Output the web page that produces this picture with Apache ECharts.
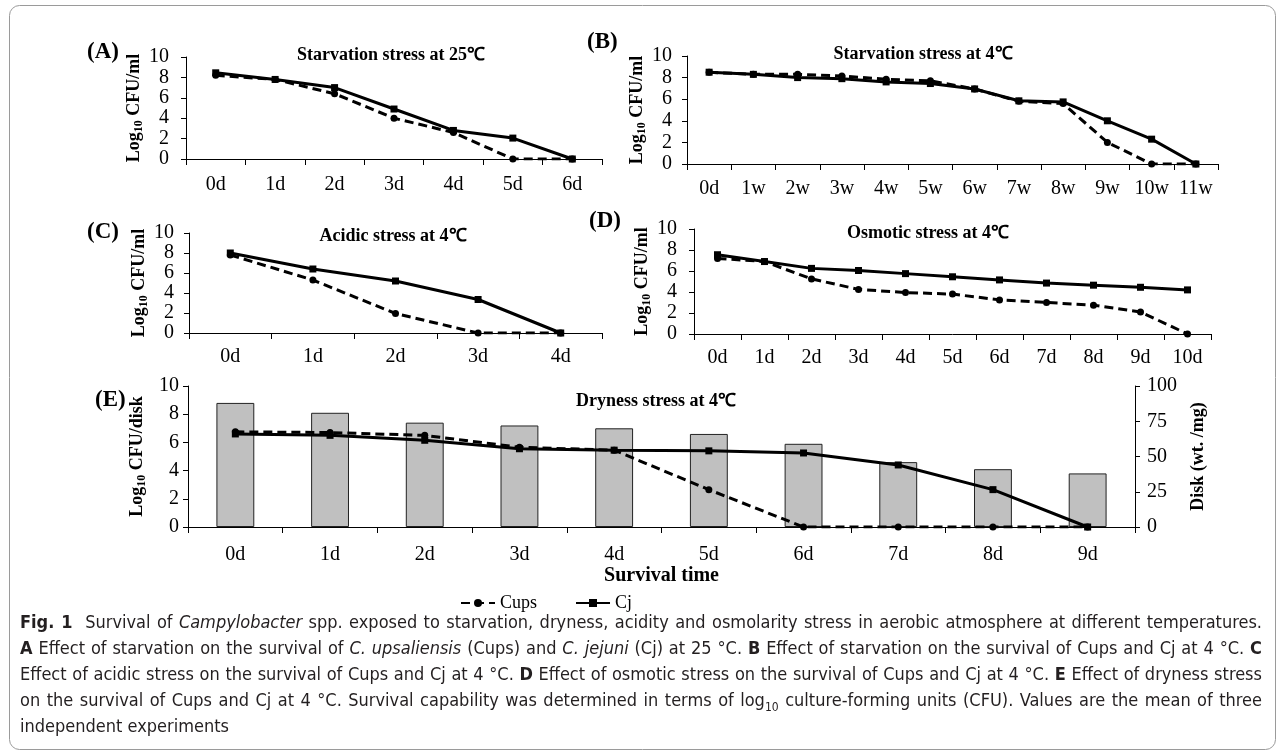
<!DOCTYPE html>
<html>
<head>
<meta charset="utf-8">
<script src="https://cdn.jsdelivr.net/npm/echarts@6/dist/echarts.min.js"></script>
<style>
    body { margin: 0; background: #fff; }
    #divChart { position: absolute; left: 0; top: 0; width: 1284px; height: 755px; }
    #caption {
        position: absolute; left: 20px; top: 609px; width: 1242px;
        font-family: "Liberation Sans Narrow", "DejaVu Sans Condensed", "DejaVu Sans", sans-serif;
        font-stretch: condensed;
        font-size: 18px; color: #231f20; line-height: 26px;
    }
    #caption div { white-space: nowrap; text-align: justify; text-align-last: justify; }
    #caption div.last { text-align-last: left; }
    #caption sub { font-size: 12px; line-height: 0; }
</style>
</head>
<body>
<div id="divChart"></div>
<div id="caption">
    <div><b>Fig. 1</b>&nbsp; Survival of <i>Campylobacter</i> spp. exposed to starvation, dryness, acidity and osmolarity stress in aerobic atmosphere at different temperatures.</div>
    <div><b>A</b> Effect of starvation on the survival of <i>C. upsaliensis</i> (Cups) and <i>C. jejuni</i> (Cj) at 25 °C. <b>B</b> Effect of starvation on the survival of Cups and Cj at 4 °C. <b>C</b></div>
    <div>Effect of acidic stress on the survival of Cups and Cj at 4 °C. <b>D</b> Effect of osmotic stress on the survival of Cups and Cj at 4 °C. <b>E</b> Effect of dryness stress</div>
    <div>on the survival of Cups and Cj at 4 °C. Survival capability was determined in terms of log<sub>10</sub> culture-forming units (CFU). Values are the mean of three</div>
    <div class="last">independent experiments</div>
</div>
<script>
// panel A - starvation 25C
var catsA = ['0d', '1d', '2d', '3d', '4d', '5d', '6d'];
var cupsA = [8.2, 7.8, 6.4, 4.0, 2.6, 0, 0];
var cjA = [8.45, 7.8, 7.0, 4.9, 2.8, 2.05, 0];

// panel B - starvation 4C
var catsB = ['0d', '1w', '2w', '3w', '4w', '5w', '6w', '7w', '8w', '9w', '10w', '11w'];
var cupsB = [8.5, 8.3, 8.3, 8.15, 7.85, 7.7, 6.95, 5.8, 5.6, 2.0, 0, 0];
var cjB = [8.5, 8.3, 8.0, 7.9, 7.6, 7.45, 6.95, 5.85, 5.75, 4.0, 2.3, 0];

// panel C - acidic
var catsC = ['0d', '1d', '2d', '3d', '4d'];
var cupsC = [7.8, 5.3, 1.95, 0, 0];
var cjC = [8.0, 6.4, 5.2, 3.35, 0];

// panel D - osmotic
var catsD = ['0d', '1d', '2d', '3d', '4d', '5d', '6d', '7d', '8d', '9d', '10d'];
var cupsD = [7.2, 6.9, 5.25, 4.25, 3.95, 3.8, 3.25, 3.0, 2.75, 2.1, 0];
var cjD = [7.55, 6.9, 6.25, 6.05, 5.75, 5.45, 5.15, 4.85, 4.65, 4.45, 4.2];

// panel E - dryness
var catsE = ['0d', '1d', '2d', '3d', '4d', '5d', '6d', '7d', '8d', '9d'];
var diskE = [88, 81, 74, 72, 70, 66, 59, 46, 41, 38];
var cupsE = [6.75, 6.7, 6.5, 5.65, 5.45, 2.65, 0, 0, 0, 0];
var cjE = [6.6, 6.5, 6.15, 5.55, 5.45, 5.4, 5.25, 4.4, 2.65, 0];

var titles = ['Starvation stress at 25℃', 'Starvation stress at 4℃', 'Acidic stress at 4℃', 'Osmotic stress at 4℃', 'Dryness stress at 4℃'];
var panelTags = ['(A)', '(B)', '(C)', '(D)', '(E)'];

var serif = '"Liberation Serif", "Times New Roman", serif';
var myChart;

function axisName(unit) {
    return '{a|Log}{s|10}{a| CFU/' + unit + '}';
}

function buildXAxis(idx, cats, margin) {
    return {
        type: 'category', gridIndex: idx, data: cats, boundaryGap: true,
        axisLine: { lineStyle: { color: '#000', width: 1 } },
        axisTick: { show: true, length: 6, interval: 0, lineStyle: { color: '#000' } },
        axisLabel: { color: '#000', fontFamily: serif, fontSize: 20, margin: margin, interval: 0, hideOverlap: false }
    };
}

function buildYAxis(idx, unit, gap, margin) {
    return {
        type: 'value', gridIndex: idx, min: 0, max: 10, interval: 2,
        name: axisName(unit), nameLocation: 'middle', nameRotate: 90, nameGap: gap,
        nameTextStyle: {
            rich: {
                a: { fontFamily: serif, fontWeight: 'bold', fontSize: 18, lineHeight: 22, color: '#000' },
                s: { fontFamily: serif, fontWeight: 'bold', fontSize: 12, lineHeight: 14, verticalAlign: 'bottom', color: '#000' }
            }
        },
        splitLine: { show: false },
        axisLine: { show: true, lineStyle: { color: '#000', width: 1 } },
        axisTick: { show: true, length: 5, lineStyle: { color: '#000' } },
        axisLabel: { color: '#000', fontFamily: serif, fontSize: 20, margin: margin }
    };
}

function lineSeries(name, idx, data) {
    var dashed = name == 'Cups';
    return {
        name: name, type: 'line', xAxisIndex: idx, yAxisIndex: idx, data: data,
        symbol: dashed ? 'circle' : 'rect', symbolSize: 7, z: dashed ? 4 : 3,
        itemStyle: { color: '#000' },
        lineStyle: { color: '#000', width: 3, type: dashed ? [9, 5] : 'solid' }
    };
}

function initChart() {
    myChart = echarts.init(document.getElementById('divChart'));

    var titlePos = [[386, 41], [918, 40], [388, 222], [923, 219], [651, 387]];
    var tagPos = [[87, 41], [587, 31], [87, 221], [589, 210], [95, 389]];

    var titleList = [];
    for (var i = 0; i < titles.length; i++) {
        titleList.push({
            text: titles[i], left: titlePos[i][0], top: titlePos[i][1], textAlign: 'center',
            textStyle: { fontFamily: serif, fontWeight: 'bold', fontSize: 18, color: '#000' }
        });
    }

    var graphics = [{
        type: 'rect', shape: { x: 9.5, y: 5.5, width: 1266, height: 744, r: 10 },
        style: { fill: 'none', stroke: '#9a9a9a', lineWidth: 1 }, silent: true
    }];
    for (var j = 0; j < panelTags.length; j++) {
        graphics.push({
            type: 'text', left: tagPos[j][0], top: tagPos[j][1],
            style: { text: panelTags[j], font: 'bold 23px ' + serif, fill: '#000' }
        });
    }

    var yE = buildYAxis(4, 'disk', 38, 9);
    var rightE = {
        type: 'value', gridIndex: 4, position: 'right', min: 0, max: 100, interval: 25,
        name: 'Disk (wt. /mg)', nameLocation: 'middle', nameRotate: 90, nameGap: 54,
        nameTextStyle: { fontFamily: serif, fontWeight: 'bold', fontSize: 18, color: '#000' },
        splitLine: { show: false },
        axisLine: { show: true, lineStyle: { color: '#000', width: 1 } },
        axisTick: { show: true, length: 5, lineStyle: { color: '#000' } },
        axisLabel: { color: '#000', fontFamily: serif, fontSize: 20, margin: 12 }
    };
    var xE = buildXAxis(4, catsE, 18);
    xE.name = 'Survival time';
    xE.nameLocation = 'middle';
    xE.nameGap = 38;
    xE.nameTextStyle = { fontFamily: serif, fontWeight: 'bold', fontSize: 20, color: '#000' };

    var option = {
        animation: false,
        backgroundColor: '#fff',
        title: titleList,
        graphic: graphics,
        legend: {
            data: ['Cups', 'Cj'], left: 455, top: 589, itemWidth: 34, itemHeight: 10, itemGap: 38,
            textStyle: { fontFamily: serif, fontSize: 18, color: '#000' }
        },
        grid: [
            { left: 186, top: 57, width: 416, height: 102 },
            { left: 687, top: 56, width: 531, height: 108 },
            { left: 189, top: 233, width: 413, height: 100 },
            { left: 694, top: 229, width: 517, height: 105 },
            { left: 188, top: 386, width: 947, height: 141 }
        ],
        xAxis: [
            buildXAxis(0, catsA, 16),
            buildXAxis(1, catsB, 15),
            buildXAxis(2, catsC, 14),
            buildXAxis(3, catsD, 14),
            xE
        ],
        yAxis: [
            buildYAxis(0, 'ml', 36, 17),
            buildYAxis(1, 'ml', 36, 15),
            buildYAxis(2, 'ml', 34, 15),
            buildYAxis(3, 'ml', 36, 17),
            yE,
            rightE
        ],
        series: [
            {
                name: 'Disk', type: 'bar', xAxisIndex: 4, yAxisIndex: 5, data: diskE, barWidth: '40%', z: 1,
                itemStyle: { color: '#c0c0c0', borderColor: '#222', borderWidth: 1 }
            },
            lineSeries('Cups', 0, cupsA), lineSeries('Cj', 0, cjA),
            lineSeries('Cups', 1, cupsB), lineSeries('Cj', 1, cjB),
            lineSeries('Cups', 2, cupsC), lineSeries('Cj', 2, cjC),
            lineSeries('Cups', 3, cupsD), lineSeries('Cj', 3, cjD),
            lineSeries('Cups', 4, cupsE), lineSeries('Cj', 4, cjE)
        ]
    };
    myChart.setOption(option);
}

initChart();
</script>
</body>
</html>
